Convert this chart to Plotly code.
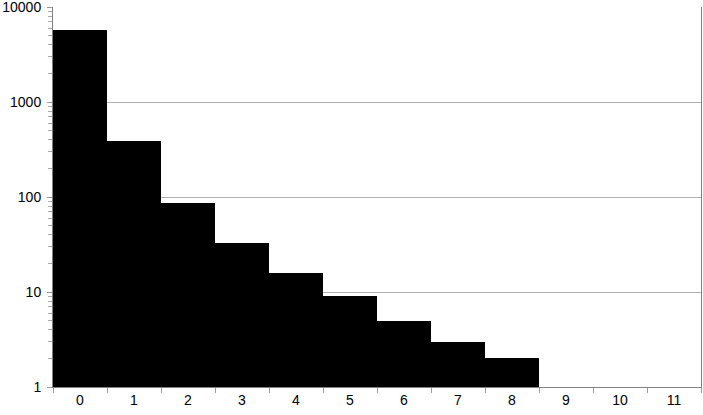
import plotly.graph_objects as go

categories = ["0", "1", "2", "3", "4", "5", "6", "7", "8", "9", "10", "11"]
counts = [5700, 390, 87, 33, 16, 9, 5, 3, 2, None, None, None]

major_ticks = [1, 10, 100, 1000, 10000]
minor_ticks = [m * d for d in [1, 10, 100, 1000] for m in range(2, 10)]

fig = go.Figure()

fig.add_trace(go.Bar(
    x=categories,
    y=counts,
    marker=dict(color="black", line=dict(width=0)),
))

fig.update_layout(
    width=703,
    height=415,
    margin=dict(l=53, r=2, t=7, b=28),
    bargap=0,
    showlegend=False,
    paper_bgcolor="white",
    plot_bgcolor="white",
    font=dict(family="Liberation Sans, Arial, sans-serif", size=14, color="black"),
    xaxis=dict(
        type="category",
        tickson="boundaries",
        ticks="outside",
        ticklen=5,
        tickcolor="#999999",
        showline=True,
        linecolor="#808080",
        linewidth=1,
        showgrid=False,
        automargin=False,
    ),
    yaxis=dict(
        type="log",
        range=[0, 4],
        tickvals=major_ticks,
        ticktext=[str(v) for v in major_ticks],
        ticks="outside",
        ticklen=5,
        tickcolor="#999999",
        ticklabelstandoff=3,
        showline=True,
        mirror=True,
        linecolor="#808080",
        linewidth=1,
        showgrid=True,
        gridcolor="#b0b0b0",
        zeroline=False,
        automargin=False,
        ticklabeloverflow="allow",
        minor=dict(tickvals=minor_ticks, ticks="outside", ticklen=4,
                   tickcolor="#aaaaaa", showgrid=False),
    ),
)

# the default page has an 8px body margin; drop it so the chart fills the window
fig.write_html("out.html", config={"displayModeBar": False},
               post_script="document.body.style.margin='0';")
